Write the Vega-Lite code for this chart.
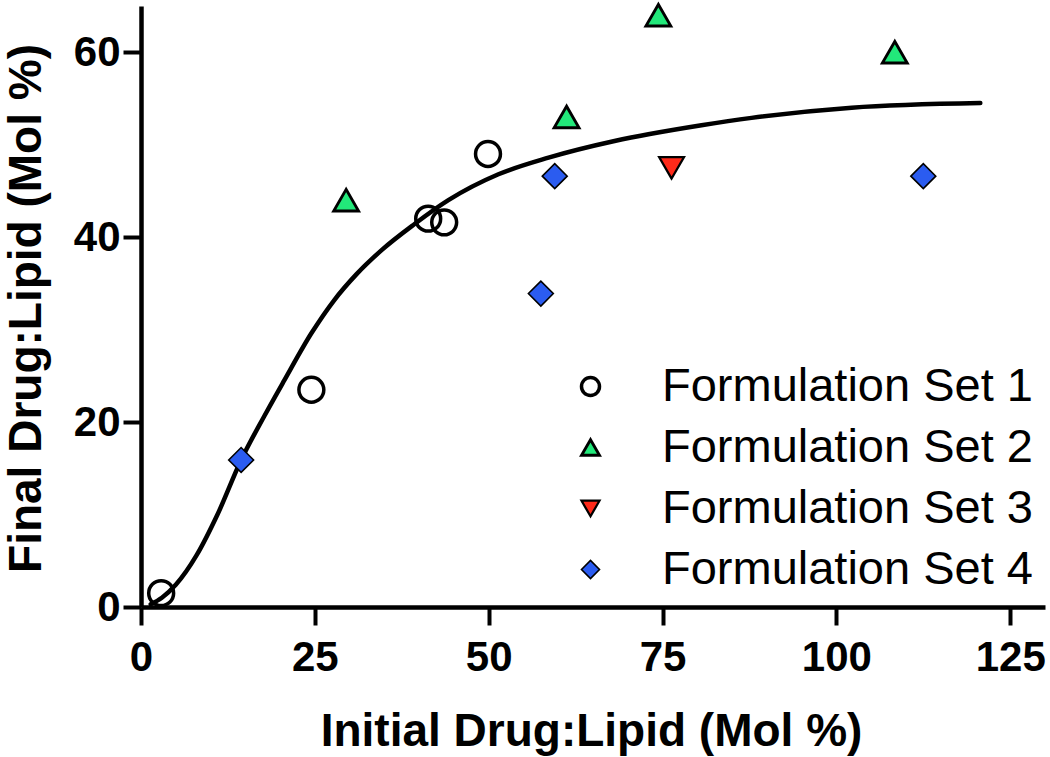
{
  "$schema": "https://vega.github.io/schema/vega-lite/v6.json",
  "autosize": {"type": "none"},
  "padding": {"left": 141, "top": 6, "right": 5, "bottom": 150},
  "width": 904,
  "height": 601,
  "background": "white",
  "config": {
    "view": {"stroke": null},
    "font": "Liberation Sans",
    "legend": {
      "title": null, "orient": "none", "legendX": 426, "legendY": 357,
      "labelFont": "Liberation Sans", "labelFontSize": 47, "labelColor": "black", "labelLimit": 0,
      "symbolSize": 324, "labelOffset": 48, "rowPadding": 13, "padding": 0
    }
  },
  "datasets": {
    "pts": [
      {"set": "Formulation Set 1", "initial": 2.9, "final": 1.5},
      {"set": "Formulation Set 1", "initial": 24.5, "final": 23.5},
      {"set": "Formulation Set 1", "initial": 41.3, "final": 42.0},
      {"set": "Formulation Set 1", "initial": 43.6, "final": 41.6},
      {"set": "Formulation Set 1", "initial": 49.9, "final": 49.0},
      {"set": "Formulation Set 2", "initial": 29.5, "final": 44.0},
      {"set": "Formulation Set 2", "initial": 61.2, "final": 53.0},
      {"set": "Formulation Set 2", "initial": 74.4, "final": 64.0},
      {"set": "Formulation Set 2", "initial": 108.4, "final": 60.0},
      {"set": "Formulation Set 3", "initial": 76.3, "final": 47.5},
      {"set": "Formulation Set 4", "initial": 14.4, "final": 15.9},
      {"set": "Formulation Set 4", "initial": 57.5, "final": 33.9},
      {"set": "Formulation Set 4", "initial": 59.5, "final": 46.6},
      {"set": "Formulation Set 4", "initial": 112.5, "final": 46.6}
    ],
    "curve": [
      {"x": 1.4, "y": 0.3},
      {"x": 3, "y": 1.0},
      {"x": 5, "y": 2.4},
      {"x": 8, "y": 5.6},
      {"x": 11, "y": 10.0},
      {"x": 14.4, "y": 15.9},
      {"x": 17.7, "y": 20.6},
      {"x": 20.6, "y": 24.5},
      {"x": 24.5, "y": 29.6},
      {"x": 27.8, "y": 33.2},
      {"x": 31, "y": 36.0},
      {"x": 34.6, "y": 38.6},
      {"x": 39.3, "y": 41.4},
      {"x": 44.2, "y": 44.0},
      {"x": 51.4, "y": 46.8},
      {"x": 58.6, "y": 48.6},
      {"x": 68.1, "y": 50.4},
      {"x": 80.6, "y": 52.1},
      {"x": 87.8, "y": 52.9},
      {"x": 102.2, "y": 54.0},
      {"x": 120.7, "y": 54.5}
    ]
  },
  "layer": [
    {
      "data": {"name": "curve"},
      "mark": {"type": "line", "color": "black", "strokeWidth": 4.5, "interpolate": "monotone", "strokeCap": "round"},
      "encoding": {
        "x": {
          "field": "x", "type": "quantitative",
          "scale": {"domain": [0, 130], "nice": false, "zero": false},
          "axis": {
            "values": [0, 25, 50, 75, 100, 125],
            "grid": false,
            "domainColor": "black", "domainWidth": 4.5,
            "tickColor": "black", "tickWidth": 4, "tickSize": 18,
            "labelFont": "Liberation Sans", "labelFontSize": 42, "labelFontWeight": "bold", "labelColor": "black",
            "labelPadding": 12, "labelFlush": false,
            "title": "Initial Drug:Lipid (Mol %)",
            "titleFont": "Liberation Sans", "titleFontSize": 46, "titleFontWeight": "bold", "titleColor": "black",
            "titleBaseline": "alphabetic", "titleX": 450, "titleY": 138, "titleAnchor": "middle"
          }
        },
        "y": {
          "field": "y", "type": "quantitative",
          "scale": {"domain": [0, 65], "nice": false, "zero": false},
          "axis": {
            "values": [0, 20, 40, 60],
            "grid": false,
            "domainColor": "black", "domainWidth": 4.5,
            "tickColor": "black", "tickWidth": 4, "tickSize": 18,
            "labelFont": "Liberation Sans", "labelFontSize": 42, "labelFontWeight": "bold", "labelColor": "black",
            "labelPadding": 3, "labelFlush": false,
            "title": "Final Drug:Lipid (Mol %)",
            "titleFont": "Liberation Sans", "titleFontSize": 46, "titleFontWeight": "bold", "titleColor": "black",
            "titleBaseline": "alphabetic", "titleX": -101, "titleY": 302, "titleAngle": -90, "titleAnchor": "middle"
          }
        }
      }
    },
    {
      "data": {"name": "pts"},
      "mark": {"type": "point", "filled": true, "opacity": 1, "size": 620},
      "encoding": {
        "x": {"field": "initial", "type": "quantitative"},
        "y": {"field": "final", "type": "quantitative"},
        "shape": {
          "field": "set", "type": "nominal",
          "scale": {"domain": ["Formulation Set 1", "Formulation Set 2", "Formulation Set 3", "Formulation Set 4"], "range": ["circle", "triangle-up", "triangle-down", "diamond"]},
          "legend": {"title": null}
        },
        "fill": {
          "field": "set", "type": "nominal",
          "scale": {"domain": ["Formulation Set 1", "Formulation Set 2", "Formulation Set 3", "Formulation Set 4"], "range": ["transparent", "#22e87a", "#ff2a1a", "#2b5cf0"]},
          "legend": {"title": null}
        },
        "stroke": {
          "field": "set", "type": "nominal",
          "scale": {"domain": ["Formulation Set 1", "Formulation Set 2", "Formulation Set 3", "Formulation Set 4"], "range": ["black", "black", "black", "black"]},
          "legend": {"title": null}
        },
        "strokeWidth": {
          "field": "set", "type": "nominal",
          "scale": {"domain": ["Formulation Set 1", "Formulation Set 2", "Formulation Set 3", "Formulation Set 4"], "range": [3.5, 1.6, 1.6, 1.6]},
          "legend": {"title": null}
        }
      }
    }
  ]
}
